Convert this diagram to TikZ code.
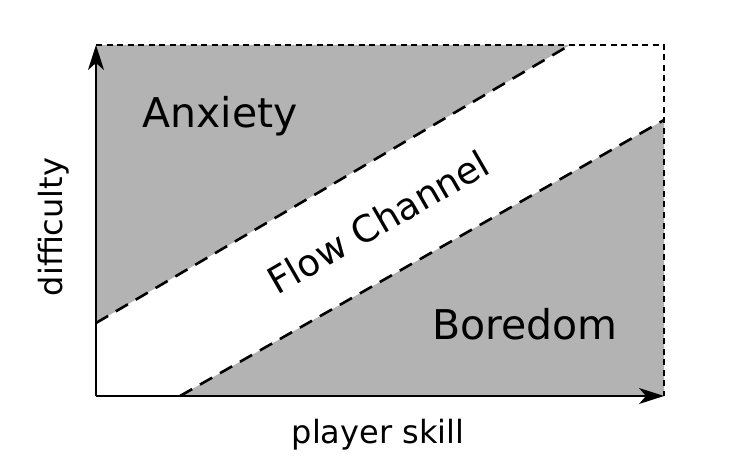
\documentclass[tikz,border=0pt]{standalone}
\usepackage{fontspec}
\setmainfont{DejaVu Sans}
\usetikzlibrary{arrows.meta}
\definecolor{zonegray}{RGB}{179,179,179}
\begin{document}
\begin{tikzpicture}[x=1pt,y=-1pt,
  zone/.style={fill=zonegray,draw=none},
  axisline/.style={line width=1.5pt,-{Stealth[length=25pt,width=16pt,inset=7pt]}},
  borderline/.style={line width=1.8pt,dash pattern=on 6pt off 4.5pt},
  edgeline/.style={line width=2.6pt,dash pattern=on 14pt off 9pt},
  bigtext/.style={font=\fontsize{41}{49}\selectfont,inner sep=0pt,anchor=base},
  axistext/.style={font=\fontsize{32}{38}\selectfont,inner sep=0pt,anchor=base}]
\useasboundingbox (0,0) rectangle (745,476);
\coordinate (O) at (96,396);
\coordinate (TL) at (96,45);
\coordinate (TR) at (664,45);
\coordinate (BR) at (664,396);
\coordinate (A1) at (96,323);
\coordinate (A2) at (570,45);
\coordinate (B1) at (180,396);
\coordinate (B2) at (664,120);
% zones
\fill[zone] (TL) -- (A2) -- (A1) -- cycle;
\fill[zone] (B1) -- (B2) -- (BR) -- cycle;
% borders
\draw[borderline] (TL) -- (TR) -- (BR);
% channel edges
\draw[edgeline] (A1) -- (A2);
\draw[edgeline] (B1) -- (B2);
% axes
\draw[axisline] (O) -- (TL);
\draw[axisline] (O) -- (BR);
% labels
\node[bigtext] (anx) at (220,128) {Anxiety};
\node[bigtext] (bor) at (525,339) {Boredom};
\node[font=\fontsize{37}{44}\selectfont,inner sep=0pt,rotate=30] (flow) at (378,222) {Flow Channel};
\node[axistext] (xl) at (378,443) {player skill};
\node[axistext,rotate=90] (yl) at (62,227) {difficulty};
\end{tikzpicture}
\end{document}
